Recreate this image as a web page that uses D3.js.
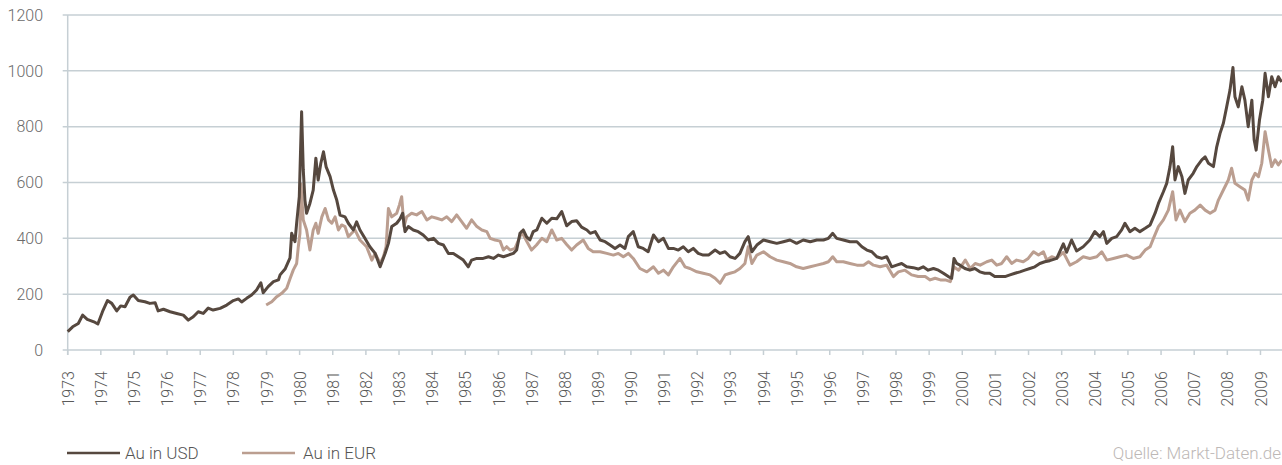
<!DOCTYPE html>
<html>
<head>
<meta charset="utf-8">
<script src="https://cdn.jsdelivr.net/npm/d3@7"></script>
<style>
  body { margin: 0; background: #fff; }
  svg { display: block; font-family: Roboto, "Liberation Sans", sans-serif; font-weight: 300; }
</style>
</head>
<body>
<svg id="chart" width="1282" height="465"></svg>
<script>
// Gold price, USD and EUR (decimal year, price per ounce)
const usdDates = [1973.00,1973.15,1973.32,1973.45,1973.59,1973.79,1973.91,1974.07,1974.20,1974.33,1974.48,1974.60,1974.73,1974.88,1974.98,1975.13,1975.33,1975.48,1975.64,1975.73,1975.89,1976.09,1976.29,1976.49,1976.64,1976.79,1976.94,1977.09,1977.24,1977.39,1977.60,1977.80,1978.00,1978.15,1978.25,1978.40,1978.55,1978.70,1978.83,1978.90,1979.05,1979.21,1979.36,1979.41,1979.56,1979.71,1979.76,1979.86,1979.91,1979.99,1980.06,1980.11,1980.16,1980.21,1980.31,1980.41,1980.49,1980.56,1980.64,1980.72,1980.80,1980.92,1981.02,1981.12,1981.22,1981.37,1981.47,1981.62,1981.72,1981.82,1981.97,1982.12,1982.28,1982.43,1982.58,1982.68,1982.78,1982.93,1983.03,1983.11,1983.18,1983.28,1983.43,1983.58,1983.73,1983.88,1984.04,1984.19,1984.34,1984.49,1984.64,1984.79,1984.94,1985.09,1985.19,1985.35,1985.54,1985.70,1985.85,1986.00,1986.15,1986.30,1986.45,1986.55,1986.65,1986.75,1986.85,1986.95,1987.05,1987.16,1987.31,1987.46,1987.61,1987.76,1987.91,1988.06,1988.21,1988.36,1988.51,1988.67,1988.77,1988.92,1989.07,1989.22,1989.37,1989.52,1989.67,1989.82,1989.92,1990.07,1990.22,1990.37,1990.52,1990.68,1990.83,1990.98,1991.13,1991.28,1991.43,1991.58,1991.73,1991.88,1992.03,1992.18,1992.34,1992.54,1992.69,1992.84,1992.99,1993.14,1993.29,1993.44,1993.54,1993.65,1993.80,1994.00,1994.20,1994.40,1994.60,1994.80,1995.00,1995.20,1995.41,1995.61,1995.81,1995.96,1996.09,1996.21,1996.41,1996.61,1996.82,1996.97,1997.12,1997.27,1997.42,1997.57,1997.72,1997.87,1998.02,1998.17,1998.32,1998.52,1998.67,1998.82,1998.97,1999.13,1999.28,1999.43,1999.58,1999.68,1999.75,1999.83,1999.93,2000.08,2000.23,2000.38,2000.53,2000.68,2000.83,2000.98,2001.14,2001.29,2001.44,2001.59,2001.74,2001.89,2002.04,2002.19,2002.34,2002.49,2002.64,2002.85,2003.05,2003.15,2003.30,2003.45,2003.65,2003.85,2004.00,2004.15,2004.26,2004.36,2004.51,2004.66,2004.81,2004.91,2005.06,2005.21,2005.36,2005.52,2005.67,2005.82,2005.92,2006.07,2006.17,2006.27,2006.35,2006.42,2006.52,2006.63,2006.72,2006.82,2006.97,2007.08,2007.23,2007.33,2007.43,2007.58,2007.68,2007.78,2007.88,2007.98,2008.08,2008.17,2008.23,2008.33,2008.44,2008.53,2008.63,2008.74,2008.81,2008.87,2008.97,2009.07,2009.14,2009.24,2009.34,2009.44,2009.54,2009.64];
const usdPrices = [66,83,95,125,110,101,93,143,177,167,140,158,155,189,197,177,173,167,169,140,146,137,131,125,107,119,137,131,150,143,149,161,177,183,172,185,197,215,241,205,227,245,251,269,290,330,418,388,454,549,853,645,537,490,525,573,687,609,669,710,656,621,573,537,483,477,454,430,459,430,400,370,346,298,346,382,442,454,470,490,424,442,430,424,412,394,400,382,376,346,346,334,322,298,322,328,328,334,328,340,334,340,346,358,418,430,405,394,424,430,472,454,472,470,496,445,460,463,440,430,418,424,394,388,376,364,376,364,406,424,370,364,352,412,388,400,364,364,358,370,352,364,346,340,340,358,346,352,334,328,346,388,406,352,376,394,388,382,388,394,382,394,388,394,394,400,418,400,394,388,388,370,358,352,334,328,334,298,304,310,298,295,290,298,286,292,286,275,263,257,328,310,304,292,286,292,280,275,275,263,263,263,269,275,280,286,292,298,310,316,320,328,380,350,394,355,370,394,424,406,424,382,400,406,430,454,424,436,424,436,448,490,525,567,597,657,728,609,657,621,561,609,633,657,681,692,669,657,728,776,812,871,931,1012,907,871,943,895,800,895,752,716,824,895,991,907,979,943,979,960];

const eurDates = [1978.99,1979.16,1979.31,1979.46,1979.61,1979.71,1979.81,1979.91,1979.96,1980.01,1980.04,1980.11,1980.21,1980.31,1980.41,1980.49,1980.56,1980.67,1980.77,1980.87,1980.97,1981.07,1981.17,1981.27,1981.37,1981.47,1981.57,1981.67,1981.82,1982.02,1982.18,1982.28,1982.43,1982.53,1982.61,1982.68,1982.78,1982.93,1983.01,1983.08,1983.15,1983.23,1983.38,1983.53,1983.69,1983.84,1983.99,1984.14,1984.29,1984.44,1984.59,1984.74,1984.89,1985.04,1985.19,1985.35,1985.50,1985.65,1985.75,1985.90,1986.05,1986.15,1986.25,1986.35,1986.50,1986.65,1986.70,1986.85,1987.00,1987.15,1987.31,1987.46,1987.61,1987.76,1987.91,1988.06,1988.21,1988.36,1988.56,1988.71,1988.86,1989.07,1989.27,1989.47,1989.62,1989.77,1989.92,1990.07,1990.27,1990.48,1990.68,1990.83,1990.98,1991.13,1991.28,1991.48,1991.63,1991.78,1991.99,1992.18,1992.39,1992.54,1992.69,1992.84,1992.99,1993.14,1993.29,1993.44,1993.54,1993.65,1993.80,1994.00,1994.20,1994.40,1994.60,1994.80,1995.00,1995.20,1995.41,1995.61,1995.81,1995.96,1996.09,1996.21,1996.41,1996.61,1996.82,1997.02,1997.17,1997.32,1997.52,1997.72,1997.92,1998.07,1998.27,1998.47,1998.67,1998.88,1999.03,1999.18,1999.34,1999.49,1999.64,1999.74,1999.89,2000.09,2000.24,2000.39,2000.54,2000.74,2000.89,2001.04,2001.19,2001.34,2001.49,2001.64,2001.84,2001.99,2002.15,2002.30,2002.45,2002.55,2002.70,2002.85,2003.05,2003.25,2003.45,2003.65,2003.85,2004.06,2004.21,2004.36,2004.56,2004.76,2004.96,2005.16,2005.36,2005.52,2005.67,2005.77,2005.92,2006.07,2006.22,2006.35,2006.45,2006.57,2006.72,2006.87,2007.02,2007.18,2007.33,2007.48,2007.63,2007.73,2007.88,2008.03,2008.13,2008.23,2008.38,2008.53,2008.63,2008.74,2008.84,2008.94,2009.04,2009.14,2009.24,2009.34,2009.44,2009.54,2009.64];
const eurPrices = [161,173,191,203,221,255,287,310,370,418,595,466,430,358,430,454,418,477,507,466,454,477,430,448,442,406,418,430,394,370,322,346,310,334,370,507,477,490,519,549,442,477,490,484,496,466,477,472,466,477,460,484,460,436,466,442,430,424,400,394,390,358,370,358,364,406,424,390,358,376,400,388,430,394,400,378,358,376,394,364,352,352,346,340,346,334,346,328,292,280,298,275,286,269,298,328,298,292,280,275,269,257,239,269,275,280,292,310,370,310,340,352,334,322,316,310,298,292,298,304,310,316,334,316,316,310,304,304,316,304,298,304,263,280,286,269,263,263,251,257,251,251,245,298,286,322,292,310,304,316,322,304,310,334,310,322,316,328,352,340,352,322,334,328,350,304,316,334,328,334,352,322,328,334,340,328,334,358,370,400,442,466,501,567,466,501,460,490,501,519,501,490,501,537,573,609,651,597,585,573,537,609,633,621,669,782,716,657,681,663,680];

const yearTicks = d3.range(1973, 2010);
const priceTicks = [0, 200, 400, 600, 800, 1000, 1200];

const seriesNames = ["Au in USD", "Au in EUR"];
const seriesColors = ["#56483f", "#bb9e90"];

const svg = d3.select("#chart");
const plotLeft = 67.7, plotRight = 1282, plotTop = 15, plotBottom = 350;

const x = d3.scaleLinear().domain([1973, 2009.65]).range([plotLeft, plotRight]);
const y = d3.scaleLinear().domain([0, 1200]).range([plotBottom, plotTop]);

// horizontal grid
svg.append("g")
  .selectAll("line")
  .data(priceTicks)
  .join("line")
  .attr("x1", plotLeft - 5)
  .attr("x2", plotRight)
  .attr("y1", d => y(d))
  .attr("y2", d => y(d))
  .attr("stroke", "#c6cfd4")
  .attr("stroke-width", 1.5);

// y axis line
svg.append("line")
  .attr("x1", plotLeft).attr("x2", plotLeft)
  .attr("y1", plotTop).attr("y2", plotBottom + 5)
  .attr("stroke", "#c6cfd4")
  .attr("stroke-width", 1.5);

// y labels
svg.append("g")
  .selectAll("text")
  .data(priceTicks)
  .join("text")
  .attr("x", 43)
  .attr("y", d => y(d))
  .attr("dy", "0.36em")
  .attr("text-anchor", "end")
  .attr("fill", "#6a6a6a")
  .style("font-size", "16px")
  .text(d => d);

// x ticks
svg.append("g")
  .selectAll("line")
  .data(yearTicks)
  .join("line")
  .attr("x1", d => x(d)).attr("x2", d => x(d))
  .attr("y1", plotBottom).attr("y2", plotBottom + 5)
  .attr("stroke", "#c6cfd4")
  .attr("stroke-width", 1.5);

// x labels (rotated)
svg.append("g")
  .selectAll("text")
  .data(yearTicks)
  .join("text")
  .attr("transform", d => `translate(${x(d)},371) rotate(-90)`)
  .attr("dy", "0.38em")
  .attr("text-anchor", "end")
  .attr("fill", "#5a5a5a")
  .style("font-size", "16px")
  .text(d => d);

// lines
const line = d3.line()
  .x(d => x(d[0]))
  .y(d => y(d[1]));

const eurData = d3.zip(eurDates, eurPrices);
const usdData = d3.zip(usdDates, usdPrices);

svg.append("path")
  .datum(eurData)
  .attr("fill", "none")
  .attr("stroke", seriesColors[1])
  .attr("stroke-width", 3)
  .attr("stroke-linejoin", "round")
  .attr("d", line);

svg.append("path")
  .datum(usdData)
  .attr("fill", "none")
  .attr("stroke", seriesColors[0])
  .attr("stroke-width", 3)
  .attr("stroke-linejoin", "round")
  .attr("d", line);

// legend
const legendX = [67, 242];
const legend = svg.append("g")
  .selectAll("g")
  .data(seriesNames)
  .join("g")
  .attr("transform", (d, i) => `translate(${legendX[i]},453)`);

legend.append("line")
  .attr("x1", 0).attr("x2", 53)
  .attr("stroke", (d, i) => seriesColors[i])
  .attr("stroke-width", 2.5);

legend.append("text")
  .attr("x", (d, i) => i === 0 ? 58 : 61)
  .attr("y", 6)
  .attr("fill", "#555")
  .style("font-size", "17px")
  .text(d => d);

// source
svg.append("text")
  .attr("x", 1281)
  .attr("y", 459)
  .attr("text-anchor", "end")
  .attr("fill", "#bdb8b6")
  .style("font-size", "17px")
  .text("Quelle: Markt-Daten.de");
</script>
</body>
</html>
